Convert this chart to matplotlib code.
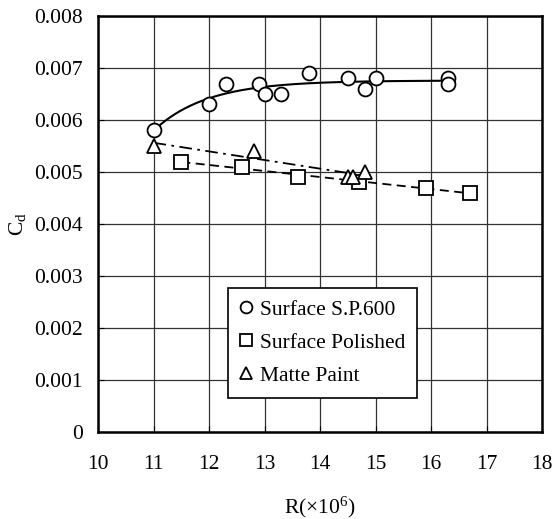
import numpy as np
import matplotlib
matplotlib.use("Agg")
import matplotlib.pyplot as plt

plt.rcParams['font.family'] = ['Liberation Serif', 'DejaVu Serif']
plt.rcParams['mathtext.fontset'] = 'custom'
plt.rcParams['mathtext.rm'] = 'Liberation Serif'
plt.rcParams['mathtext.it'] = 'Liberation Serif'

# Surface S.P.600
sp_r = [11.0, 12.0, 12.3, 12.9, 13.0, 13.3, 13.8, 14.5, 14.8, 15.0, 16.3, 16.3]
sp_cd = [0.0058, 0.0063, 0.0067, 0.0067, 0.0065, 0.0065, 0.0069, 0.0068, 0.0066, 0.0068, 0.0068, 0.0067]

# Surface Polished
pol_r = [11.5, 12.6, 13.6, 14.7, 15.9, 16.7]
pol_cd = [0.0052, 0.0051, 0.0049, 0.0048, 0.0047, 0.0046]

# Matte Paint
mp_r = [11.0, 12.8, 14.5, 14.6, 14.8]
mp_cd = [0.0055, 0.0054, 0.0049, 0.0049, 0.0050]


def saturating_fit(x, y):
    # y = a - b*exp(-k*(x - x0)), k found by a simple scan
    x = np.asarray(x)
    y = np.asarray(y)
    best = None
    for k in np.linspace(0.2, 3.0, 141):
        A = np.column_stack([np.ones_like(x), -np.exp(-k * (x - x.min()))])
        coef, *_ = np.linalg.lstsq(A, y, rcond=None)
        err = np.sum((A @ coef - y) ** 2)
        if best is None or err < best[0]:
            best = (err, k, coef)
    _, k, (a, b) = best
    return lambda t: a - b * np.exp(-k * (t - x.min()))


fig = plt.figure(figsize=(5.52, 5.19), dpi=100)
ax = fig.add_axes([0.1775, 0.168, 0.805, 0.801])

# trend lines
f = saturating_fit(sp_r, sp_cd)
xs = np.linspace(min(sp_r), max(sp_r), 200)
ax.plot(xs, f(xs), color='black', lw=1.5, zorder=3)

c = np.polyfit(pol_r, pol_cd, 1)
xs = np.linspace(min(pol_r), max(pol_r), 50)
ax.plot(xs, np.polyval(c, xs), color='black', lw=1.3, ls=(0, (5, 3)), zorder=3)

c = np.polyfit(mp_r, mp_cd, 1)
xs = np.linspace(min(mp_r), max(mp_r), 50)
ax.plot(xs, np.polyval(c, xs), color='black', lw=1.3, ls=(0, (7, 3, 1.5, 3)), zorder=3)

ax.plot(sp_r, sp_cd, 'o', ms=10, mfc='white', mec='black', mew=1.3, ls='none',
        label='Surface S.P.600', zorder=4)
ax.plot(pol_r, pol_cd, 's', ms=10, mfc='white', mec='black', mew=1.3, ls='none',
        label='Surface Polished', zorder=4)
ax.plot(mp_r, mp_cd, '^', ms=10, mfc='white', mec='black', mew=1.3, ls='none',
        label='Matte Paint', zorder=4)

ax.set_xlim(10, 18)
ax.set_ylim(0, 0.008)
ax.set_xticks(np.arange(10, 19, 1))
ax.set_yticks(np.arange(0, 0.0081, 0.001))
ax.set_yticklabels(['0'] + ['%.3f' % v for v in np.arange(0.001, 0.0081, 0.001)])
ax.tick_params(direction='in', labelsize=15.5, length=4)
ax.tick_params(axis='x', pad=17)
ax.tick_params(axis='y', pad=11)
ax.grid(True, color='#333333', lw=0.9)
ax.set_axisbelow(True)
for s in ax.spines.values():
    s.set_linewidth(1.8)

ax.set_xlabel(r'R(×10$^6$)', fontsize=15.5, labelpad=15)
ax.set_ylabel(r'C$_\mathrm{d}$', fontsize=15.5, labelpad=4)

leg = ax.legend(loc='lower center', bbox_to_anchor=(0.505, 0.082), fontsize=15.5,
                handlelength=0.6, handletextpad=0.35, markerscale=0.85,
                fancybox=False, edgecolor='black', framealpha=1,
                borderpad=0.55, labelspacing=0.6, borderaxespad=0)
leg.get_frame().set_linewidth(1.2)

fig.savefig('out.png', dpi=100)
